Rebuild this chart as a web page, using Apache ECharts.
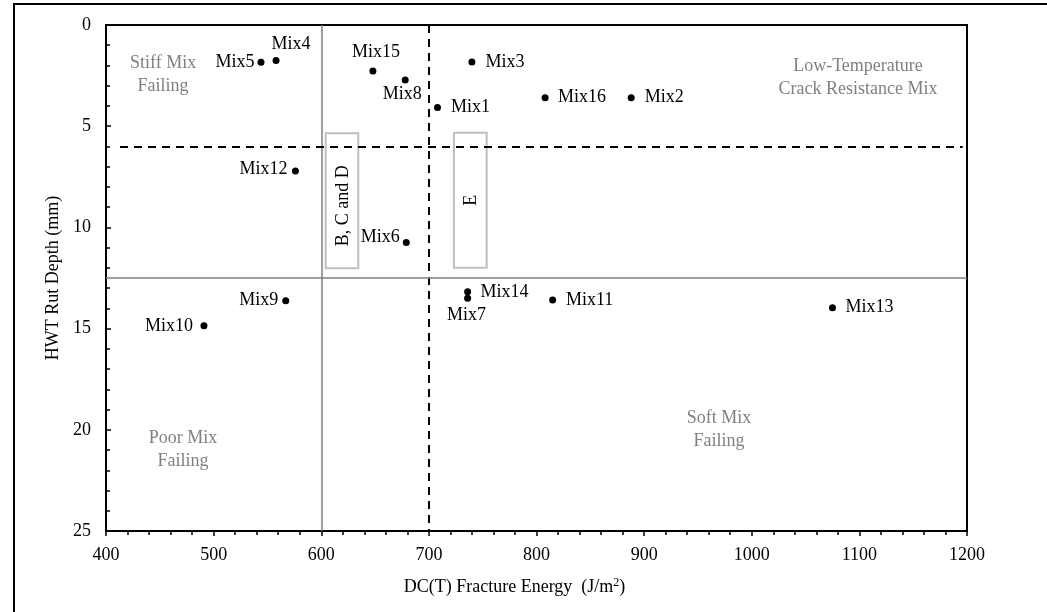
<!DOCTYPE html>
<html><head><meta charset="utf-8">
<script src="https://cdn.jsdelivr.net/npm/echarts@6/dist/echarts.min.js"></script>
<style>html,body{margin:0;padding:0;background:#fff}#c{width:1047px;height:612px}</style>
</head><body><div id="c"></div>
<script>
// ---- data ----
const mixNames = ['Mix1','Mix2','Mix3','Mix4','Mix5','Mix6','Mix7','Mix8','Mix9','Mix10','Mix11','Mix12','Mix13','Mix14','Mix15','Mix16'];
const fractureEnergy = [708, 888, 740, 558, 544, 679, 736, 678, 567, 491, 815, 576, 1075, 736, 648, 808];
const rutDepth = [4.07, 3.59, 1.83, 1.75, 1.84, 10.74, 13.5, 2.72, 13.62, 14.86, 13.59, 7.21, 13.97, 13.18, 2.27, 3.59];
const xTicks = [400, 500, 600, 700, 800, 900, 1000, 1100, 1200];
const yTicks = [0, 5, 10, 15, 20, 25];
const thresholdsX = [600, 700];
const thresholdsY = [6, 12.5];
const groupBoxes = [[604.1, 5.35, 634.4, 12.02, 'B, C and D'], [723.3, 5.32, 753.7, 11.99, 'E']];
const regionLabels = [[453, 2.47, 'Stiff Mix\nFailing'], [1098.7, 2.62, 'Low-Temperature\nCrack Resistance Mix'], [471.5, 21.0, 'Poor Mix\nFailing'], [969.5, 20.0, 'Soft Mix\nFailing']];

// ---- label offsets (style) ----
const labelOffsets = {
  Mix1:[33,0], Mix2:[33,0], Mix3:[33,0], Mix4:[15,-16], Mix5:[-26,0], Mix6:[-26,-5], Mix7:[-1,17], Mix8:[-3,14],
  Mix9:[-27,0], Mix10:[-35,0], Mix11:[37,0], Mix12:[-32,-2], Mix13:[37,0], Mix14:[37,1], Mix15:[3,-19], Mix16:[37,0]
};
const FONT = 'Liberation Serif';

const points = mixNames.map((n, i) => ({
  value: [fractureEnergy[i], rutDepth[i]], name: n,
  label: { show: true, position: 'inside', offset: labelOffsets[n], formatter: n, color: '#000', fontFamily: FONT, fontSize: 18 }
}));

const chart = echarts.init(document.getElementById('c'), null, { renderer: 'canvas' });
chart.setOption({
  animation: false,
  backgroundColor: '#fff',
  graphic: [{ type: 'rect', shape: { x: 14, y: 4, width: 1100, height: 700 }, style: { fill: 'none', stroke: '#000', lineWidth: 2 }, silent: true, z: -10 }],
  grid: { left: 106, top: 25, right: 80, bottom: 81, show: true, borderColor: '#000', borderWidth: 2, backgroundColor: 'transparent' },
  xAxis: {
    type: 'value', min: xTicks[0], max: xTicks[xTicks.length - 1], interval: 100,
    name: 'DC(T) Fracture Energy  (J/m{sup|2})', nameLocation: 'middle', nameGap: 46,
    nameTextStyle: { fontFamily: FONT, fontSize: 18, color: '#000', padding: [0, 44, 0, 0],
      rich: { sup: { fontFamily: FONT, fontSize: 12, color: '#000', padding: [0, 0, 9, 0] } } },
    axisLine: { show: true, onZero: false, lineStyle: { color: '#000', width: 2 } },
    axisTick: { show: true, inside: false, length: 5, lineStyle: { color: '#000', width: 1.5 } },
    minorTick: { show: true, splitNumber: 5, length: 4, lineStyle: { color: '#000', width: 1.5 } },
    axisLabel: { fontFamily: FONT, fontSize: 18, color: '#000', margin: 15, formatter: v => String(v) },
    splitLine: { show: false }
  },
  yAxis: {
    type: 'value', inverse: true, min: yTicks[0], max: yTicks[yTicks.length - 1], interval: 5,
    name: 'HWT Rut Depth (mm)', nameLocation: 'middle', nameGap: 36, nameRotate: 90,
    nameTextStyle: { fontFamily: FONT, fontSize: 18, color: '#000' },
    axisLine: { show: true, onZero: false, lineStyle: { color: '#000', width: 2 } },
    axisTick: { show: true, inside: true, length: 5, lineStyle: { color: '#000', width: 1.5 } },
    minorTick: { show: true, splitNumber: 5, length: 4, lineStyle: { color: '#000', width: 1.5 } },
    axisLabel: { fontFamily: FONT, fontSize: 18, color: '#000', margin: 15, formatter: v => String(v) },
    splitLine: { show: false }
  },
  series: [
    {
      type: 'scatter', data: points, symbol: 'circle', symbolSize: 7,
      itemStyle: { color: '#000', opacity: 1 }, z: 5,
      markLine: {
        silent: true, symbol: 'none', label: { show: false },
        data: [
          { xAxis: thresholdsX[0], lineStyle: { color: '#7f7f7f', width: 1.5, type: 'solid' } },
          { xAxis: thresholdsX[1], lineStyle: { color: '#000', width: 2, type: [8, 6] } },
          [{ coord: [413, thresholdsY[0]], lineStyle: { color: '#000', width: 2, type: [8, 6] } }, { coord: [1196, thresholdsY[0]] }],
          { yAxis: thresholdsY[1], lineStyle: { color: '#7f7f7f', width: 1.5, type: 'solid' } }
        ]
      }
    },
    {
      type: 'custom', data: groupBoxes, silent: true, z: 3,
      renderItem: function (params, api) {
        const p1 = api.coord([api.value(0), api.value(1)]);
        const p2 = api.coord([api.value(2), api.value(3)]);
        const txt = groupBoxes[params.dataIndex][4];
        const cx = (p1[0] + p2[0]) / 2, cy = (p1[1] + p2[1]) / 2;
        return { type: 'group', children: [
          { type: 'rect', shape: { x: p1[0], y: p1[1], width: p2[0] - p1[0], height: p2[1] - p1[1] },
            style: { fill: 'none', stroke: '#bfbfbf', lineWidth: 2 } },
          { type: 'text', x: cx + 1, y: cy + (txt.length > 2 ? 5 : 0), rotation: Math.PI / 2,
            style: { text: txt, fill: '#000', font: '18px "Liberation Serif"', align: 'center', verticalAlign: 'middle' } }
        ] };
      }
    },
    {
      type: 'custom', data: regionLabels, silent: true, z: 3,
      renderItem: function (params, api) {
        const p = api.coord([api.value(0), api.value(1)]);
        return { type: 'text', x: p[0], y: p[1],
          style: { text: regionLabels[params.dataIndex][2], fill: '#808080', font: '18px "Liberation Serif"', align: 'center', verticalAlign: 'middle', lineHeight: 23 } };
      }
    }
  ]
});
</script></body></html>
